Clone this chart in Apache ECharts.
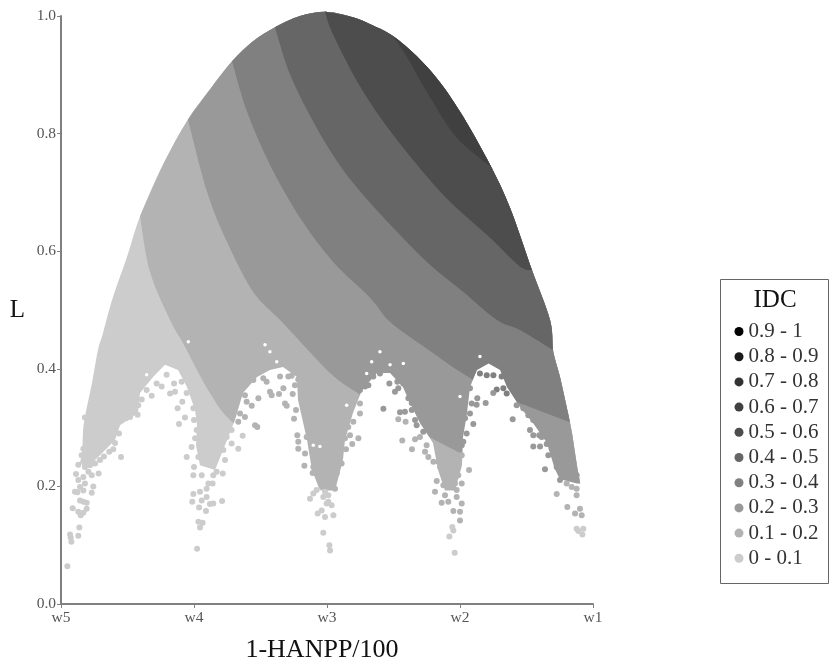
<!DOCTYPE html>
<html><head><meta charset="utf-8">
<style>html,body{margin:0;padding:0;background:#fff}#c{width:832px;height:671px}</style>
<script src="https://cdn.jsdelivr.net/npm/echarts@6/dist/echarts.min.js"></script>
</head><body><div id="c"></div>
<script>
const xTickLabels = ['w5','w4','w3','w2','w1'];
const classNames = ['0.9 - 1','0.8 - 0.9','0.7 - 0.8','0.6 - 0.7','0.5 - 0.6','0.4 - 0.5','0.3 - 0.4','0.2 - 0.3','0.1 - 0.2','0 - 0.1'];
const classColors = ['#000000','#1a1a1a','#333333','#404040','#4d4d4d','#666666','#808080','#999999','#b3b3b3','#cccccc'];

// upper outline of the filled region
const dome = [[.128,.228],[.158,.257],[.165,.291],[.180,.318],[.233,.376],[.278,.432],[.316,.461],[.391,.522],[.496,.590],[.594,.659],[.767,.747],[.955,.824],[1.120,.875],[1.286,.923],[1.444,.957],[1.609,.981],[1.797,1.000],[2.000,1.007],[2.195,.998],[2.346,.984],[2.496,.966],[2.677,.931],[2.850,.887],[3.023,.829],[3.226,.747],[3.376,.674],[3.541,.568],[3.677,.483],[3.699,.432],[3.752,.386],[3.812,.325],[3.842,.291],[3.865,.257],[3.895,.216],[3.992,.100]];
// class boundaries, lightest to darkest
const edge01 = [[.594,.659],[.669,.565],[.820,.483],[.917,.444],[1.023,.398],[1.120,.359],[1.271,.313],[1.647,.245],[2.023,.185],[2.398,.142],[2.925,.125],[3.992,.100]];
const edge02 = [[.955,.824],[1.098,.701],[1.248,.616],[1.444,.531],[1.647,.483],[1.820,.441],[2.023,.393],[2.195,.364],[2.624,.304],[2.887,.270],[3.301,.228],[3.752,.211],[3.910,.199]];
const edge03 = [[1.286,.923],[1.398,.838],[1.571,.747],[1.797,.657],[2.045,.582],[2.323,.521],[2.459,.483],[2.624,.454],[2.797,.427],[3.000,.395],[3.301,.355],[3.549,.333],[3.827,.309]];
const edge04 = [[1.609,.981],[1.722,.901],[1.895,.821],[2.075,.753],[2.271,.696],[2.526,.633],[2.774,.577],[3.023,.531],[3.278,.483],[3.451,.466],[3.699,.432]];
const edge05 = [[1.985,1.007],[2.045,.969],[2.226,.889],[2.421,.821],[2.677,.747],[2.925,.684],[3.226,.623],[3.451,.574],[3.541,.568]];
const edge06 = [[2.496,.966],[2.602,.930],[2.774,.862],[2.977,.793],[3.241,.742]];
// lower scalloped limit of the filled region
const scallop = [[.150,.240],[.180,.228],[.293,.253],[.406,.279],[.444,.304],[.579,.325],[.594,.359],[.692,.386],[.782,.407],[.880,.398],[.947,.369],[1.008,.330],[1.023,.304],[1.015,.270],[1.045,.236],[1.158,.228],[1.233,.270],[1.308,.313],[1.368,.359],[1.474,.386],[1.571,.398],[1.669,.403],[1.774,.386],[1.782,.347],[1.850,.279],[1.887,.228],[1.947,.193],[2.060,.193],[2.120,.245],[2.135,.279],[2.195,.325],[2.263,.364],[2.376,.393],[2.474,.393],[2.571,.369],[2.624,.342],[2.699,.308],[2.797,.274],[2.835,.228],[2.887,.193],[2.962,.193],[3.015,.236],[3.023,.284],[3.053,.325],[3.075,.369],[3.128,.398],[3.215,.409],[3.301,.398],[3.353,.369],[3.451,.335],[3.549,.308],[3.654,.274],[3.712,.230],[3.752,.212],[3.880,.205]];

const dots00 = [[.048,.064],[.068,.118],[.073,.113],[.078,.106],[.130,.116],[.138,.130],[.088,.163],[.130,.157],[.148,.151],[.168,.155],[.193,.162],[.105,.191],[.123,.190],[.143,.176],[.168,.174],[.193,.172],[.231,.189],[.243,.200],[.168,.193],[.180,.205],[.130,.211],[.113,.221],[.130,.237],[.155,.253],[.168,.264],[.206,.225],[.231,.219],[.283,.222],[.256,.239],[.293,.245],[.323,.251],[.363,.259],[.393,.263],[.451,.250],[.406,.274],[.436,.290],[.381,.280],[.293,.273],[.331,.287],[.218,.256],[.193,.245],[.243,.267],[.143,.199],[.168,.216],[.180,.233],[.218,.236],[.193,.296],[.180,.317],[.206,.307],[.231,.284],[.489,.316],[.519,.318],[.576,.322],[.581,.338],[.544,.333],[.607,.348],[.531,.364],[.644,.364],[.682,.354],[.719,.375],[.757,.370],[.820,.358],[.857,.361],[.794,.390],[.850,.375],[.907,.378],[.945,.359],[.877,.333],[.912,.344],[.932,.317],[.887,.306],[.995,.333],[1.033,.330],[1.000,.313],[1.020,.296],[1.058,.296],[1.008,.282],[.982,.267],[.945,.250],[1.000,.233],[.995,.219],[1.058,.219],[1.145,.219],[1.216,.222],[1.095,.196],[1.045,.191],[.995,.187],[.987,.174],[1.058,.176],[1.095,.182],[1.120,.170],[1.145,.171],[1.211,.175],[1.038,.164],[1.090,.158],[1.033,.140],[1.065,.138],[1.045,.130],[1.023,.094],[1.140,.205],[1.108,.205],[1.170,.225],[1.233,.245],[1.221,.262],[1.083,.239],[1.120,.242],[1.033,.250],[1.283,.273],[1.333,.264],[1.366,.286],[1.283,.296],[1.246,.284],[1.195,.296],[1.145,.282],[1.095,.270],[1.922,.194],[1.897,.188],[1.872,.179],[1.930,.154],[1.960,.159],[1.985,.148],[1.972,.121],[2.018,.100],[2.023,.091],[2.048,.151],[1.997,.171],[2.035,.168],[1.972,.182],[2.010,.185],[1.985,.191],[2.010,.174],[2.942,.131],[2.950,.125],[2.920,.115],[2.960,.087],[3.877,.128],[3.927,.128],[3.920,.118],[3.890,.124]];
const dots01 = [[1.333,.310],[1.346,.324],[1.383,.318],[1.396,.344],[1.434,.337],[1.459,.304],[1.476,.301],[1.484,.350],[1.383,.355],[1.446,.381],[1.521,.384],[1.571,.361],[1.584,.355],[1.546,.378],[1.639,.357],[1.672,.367],[1.684,.341],[1.697,.337],[1.742,.357],[1.767,.330],[1.822,.333],[1.752,.315],[1.784,.382],[1.759,.372],[1.734,.388],[1.709,.387],[1.647,.387],[1.777,.287],[1.784,.276],[1.784,.264],[1.835,.256],[1.830,.235],[1.897,.233],[1.892,.223],[1.922,.245],[1.935,.216],[1.960,.205],[1.922,.256],[1.972,.245],[1.847,.284],[1.897,.290],[2.060,.196],[2.023,.211],[1.985,.216],[2.073,.222],[2.110,.239],[2.048,.239],[1.997,.245],[2.085,.250],[2.023,.250],[2.143,.263],[2.190,.272],[2.236,.282],[2.173,.287],[2.135,.282],[2.160,.301],[2.198,.310],[2.248,.324],[2.248,.341],[2.211,.355],[2.536,.314],[2.591,.310],[2.566,.278],[2.662,.280],[2.639,.263],[2.749,.270],[2.699,.284],[2.737,.259],[2.762,.250],[2.800,.242],[2.837,.242],[2.887,.253],[2.950,.256],[3.013,.253],[3.068,.228],[2.850,.233],[2.825,.209],[2.812,.191],[2.887,.185],[2.862,.172],[2.912,.174],[2.975,.182],[3.013,.205],[2.962,.205],[2.875,.202],[2.937,.222],[2.987,.219],[3.013,.171],[2.950,.158],[3.000,.157],[3.000,.142],[2.912,.228],[2.887,.216],[2.975,.194],[3.727,.187],[3.807,.165],[3.865,.154],[3.902,.162],[3.915,.151],[3.840,.199],[3.877,.196],[3.877,.185],[3.802,.205]];
const dots02 = [[2.248,.364],[2.286,.370],[2.311,.372],[2.348,.387],[2.398,.392],[2.469,.375],[2.529,.378],[2.536,.367],[2.511,.361],[2.574,.375],[2.424,.332],[2.549,.326],[2.586,.327],[2.637,.330],[2.612,.350],[2.637,.342],[2.662,.313],[2.674,.304],[2.724,.293],[3.013,.270],[3.025,.276],[2.987,.287],[3.050,.290],[3.038,.316],[3.075,.324],[3.100,.306],[3.088,.341],[3.130,.350],[3.125,.339],[3.193,.342],[3.075,.367],[3.250,.359],[3.396,.314],[3.426,.338],[3.476,.333],[3.514,.321],[3.551,.313],[3.526,.296],[3.551,.287],[3.596,.287],[3.614,.284],[3.551,.268],[3.602,.268],[3.652,.272],[3.689,.264],[3.664,.253],[3.639,.229],[3.727,.233],[3.752,.228],[3.789,.245],[3.827,.256],[3.752,.256],[3.752,.211],[3.877,.219],[3.840,.233]];
const dots03 = [[3.276,.365],[3.326,.367],[3.351,.358],[3.313,.387],[3.251,.389],[3.201,.389],[3.150,.392]];
// small unfilled gaps between dots near the arch tops
const gaps = [[.957,.446],[1.571,.429],[1.622,.412],[1.534,.441],[.644,.390],[1.897,.270],[1.947,.268],[2.398,.429],[2.336,.412],[2.298,.392],[2.474,.407],[2.574,.409],[3.150,.421],[3.000,.353],[2.148,.338]];

const FONT = '"Liberation Serif", serif';
// curve through pixel points, for rendering a read outline without corners on its straight runs
function curveThrough(p){
  let d = '';
  for (let i = 0; i < p.length - 1; i++) {
    const a = p[Math.max(i-1,0)], b = p[i], c = p[i+1], e = p[Math.min(i+2,p.length-1)];
    const c1 = [b[0]+(c[0]-a[0])/6, b[1]+(c[1]-a[1])/6], c2 = [c[0]-(e[0]-b[0])/6, c[1]-(e[1]-b[1])/6];
    d += 'C'+c1[0].toFixed(2)+' '+c1[1].toFixed(2)+' '+c2[0].toFixed(2)+' '+c2[1].toFixed(2)+' '+c[0].toFixed(2)+' '+c[1].toFixed(2);
  }
  return d;
}
function layerSeries(edge, color){
  const xs = edge[0][0], xe = edge[edge.length-1][0];
  const upper = [edge[edge.length-1]].concat(dome.filter(p => p[0] > xs && p[0] < xe).reverse(), [edge[0]]);
  return {type:'custom', coordinateSystem:'cartesian2d', silent:true, z:1, clip:false,
    data:[edge[0]], encode:{x:0,y:1}, animation:false,
    renderItem:(params, api)=>{
      const e = edge.map(p=>api.coord(p)), u = upper.map(p=>api.coord(p));
      return {type:'path', shape:{pathData:'M'+e[0][0].toFixed(2)+' '+e[0][1].toFixed(2)+curveThrough(e)+curveThrough(u)+'Z'}, style:{fill:color}};
    }};
}
const baseEdge = [dome[0], dome[dome.length-1]];
const hollow = [[0,.240]].concat(scallop, [[4,.205],[4,0],[0,0]]);
const dotsByClass = {'0 - 0.1':dots00,'0.1 - 0.2':dots01,'0.2 - 0.3':dots02,'0.3 - 0.4':dots03};

const series = [
  layerSeries(baseEdge,'#cccccc'), layerSeries(edge01,'#b3b3b3'), layerSeries(edge02,'#999999'),
  layerSeries(edge03,'#808080'), layerSeries(edge04,'#666666'), layerSeries(edge05,'#4d4d4d'), layerSeries(edge06,'#404040'),
  {type:'custom', coordinateSystem:'cartesian2d', silent:true, z:2, clip:false, data:[hollow[0]], encode:{x:0,y:1}, animation:false,
   renderItem:(params, api)=>({type:'polygon', shape:{points:hollow.map(p=>api.coord(p))}, style:{fill:'#fff'}})},
  {type:'scatter', name:'gaps', data:gaps, symbol:'circle', symbolSize:3.5, itemStyle:{color:'#fff',opacity:1}, z:2, silent:true, animation:false}
];
classNames.forEach((n,i)=>series.push({type:'scatter', name:n, data:dotsByClass[n]||[], symbol:'circle', symbolSize:6,
  itemStyle:{color:classColors[i],opacity:1}, z:3, clip:false, silent:true, animation:false}));

const chart = echarts.init(document.getElementById('c'), null, {renderer:'canvas'});
chart.setOption({
  animation:false,
  backgroundColor:'#fff',
  grid:{left:61, right:239, top:16, bottom:67, containLabel:false},
  xAxis:{type:'value', min:0, max:4, interval:1, z:6, name:'1-HANPP/100', nameLocation:'middle', nameGap:33,
    nameTextStyle:{fontFamily:FONT,fontSize:26,color:'#111',padding:[0,10,0,0]},
    splitLine:{show:false},
    axisLine:{lineStyle:{color:'#808080',width:2}},
    axisTick:{length:4,lineStyle:{color:'#808080',width:1}},
    axisLabel:{formatter:v=>xTickLabels[v],fontFamily:FONT,fontSize:15.5,color:'#555',margin:6,hideOverlap:false,showMinLabel:true,showMaxLabel:true}},
  yAxis:{type:'value', min:0, max:1, interval:.2, z:6, name:'L', nameLocation:'middle', nameGap:36, nameRotate:0,
    nameTextStyle:{fontFamily:FONT,fontSize:25,color:'#111',padding:[0,0,10,0]},
    splitLine:{show:false},
    axisLine:{lineStyle:{color:'#808080',width:2}},
    axisTick:{length:4,lineStyle:{color:'#808080',width:1}},
    axisLabel:{formatter:v=>v.toFixed(1),fontFamily:FONT,fontSize:15.5,color:'#555',margin:5,showMinLabel:true,showMaxLabel:true}},
  graphic:[{type:'rect', left:720, top:279, shape:{width:108,height:304}, style:{fill:'#fff',stroke:'#666',lineWidth:1}, z:-1, silent:true}],
  title:{text:'IDC', left:753.5, top:287.5, padding:0, textStyle:{fontFamily:FONT,fontSize:25,fontWeight:'normal',color:'#111'}},
  legend:{orient:'vertical', left:734.5, top:321, padding:0, itemWidth:9, itemHeight:9, itemGap:4.2, selectedMode:false, icon:'circle',
    data:classNames, formatter:n=>n,
    textStyle:{fontFamily:FONT,fontSize:21,color:'#333'}},
  series:series
});
</script></body></html>
